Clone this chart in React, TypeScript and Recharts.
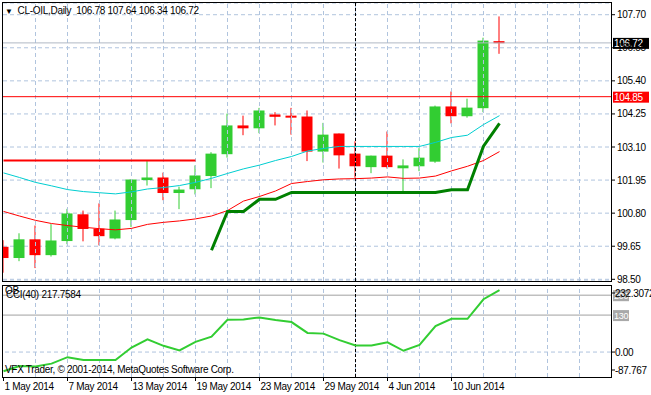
import {
  ComposedChart,
  Bar,
  Line,
  XAxis,
  YAxis,
  CartesianGrid,
  ReferenceLine,
} from 'recharts'

// trading days, 1 May .. 13 Jun 2014
const dates = [
  '1 May 2014', '2 May 2014', '5 May 2014', '6 May 2014', '7 May 2014', '8 May 2014',
  '9 May 2014', '12 May 2014', '13 May 2014', '14 May 2014', '15 May 2014', '16 May 2014',
  '19 May 2014', '20 May 2014', '21 May 2014', '22 May 2014', '23 May 2014', '26 May 2014',
  '27 May 2014', '28 May 2014', '29 May 2014', '30 May 2014', '2 Jun 2014', '3 Jun 2014',
  '4 Jun 2014', '5 Jun 2014', '6 Jun 2014', '9 Jun 2014', '10 Jun 2014', '11 Jun 2014',
  '12 Jun 2014', '13 Jun 2014',
]

const open = [
  99.63, 99.24, 99.89, 99.34, 99.83, 100.76, 100.26, 99.92, 100.56, 101.95, 102.04, 101.5,
  101.63, 102.09, 102.85, 103.85, 103.75, 104.23, 104.19, 104.16, 102.94, 103.57, 102.87, 102.4,
  102.8, 102.36, 102.43, 102.59, 104.51, 104.17, 104.45, 106.78,
]
const high = [
  99.86, 100.1, 100.37, 100.42, 100.95, 100.89, 101.14, 100.89, 101.97, 102.61, 102.21, 101.72,
  102.46, 102.92, 104.26, 104.19, 104.46, 104.31, 104.46, 104.37, 103.94, 103.57, 103.3, 102.8,
  103.64, 102.67, 103.06, 104.54, 105.03, 104.78, 106.9, 107.64,
]
const low = [
  98.73, 99.13, 98.89, 99.29, 99.72, 99.82, 99.68, 99.89, 100.32, 101.76, 101.25, 100.94,
  101.45, 101.67, 102.73, 103.51, 103.58, 103.85, 103.53, 102.61, 102.56, 102.35, 102.03, 102.19,
  102.35, 101.56, 102.26, 102.55, 103.92, 104.12, 104.31, 106.34,
]
const close = [
  99.24, 99.89, 99.34, 99.85, 100.79, 100.25, 100.0, 100.58, 101.97, 102.04, 101.5, 101.62,
  102.11, 102.87, 103.85, 103.75, 104.37, 104.15, 104.13, 102.94, 103.53, 102.81, 102.43, 102.8,
  102.4, 102.46, 102.73, 104.51, 104.17, 104.47, 106.8, 106.72,
]

// moving averages and the trailing line
const maFast = [
  102.2, 102.04, 101.87, 101.75, 101.62, 101.55, 101.51, 101.47, 101.54, 101.64, 101.69, 101.76,
  101.87, 102.01, 102.18, 102.34, 102.47, 102.63, 102.77, 102.96, 103.05, 103.12, 103.12, 103.12,
  103.12, 103.12, 103.12, 103.26, 103.43, 103.51, 103.88, 104.19,
]
const maSlow = [
  100.86, 100.7, 100.55, 100.44, 100.37, 100.31, 100.26, 100.22, 100.27, 100.41, 100.48, 100.53,
  100.6, 100.7, 100.89, 101.22, 101.38, 101.57, 101.83, 101.9, 101.96, 101.99, 102.0, 102.02,
  102.06, 102.01, 102.02, 102.09, 102.27, 102.43, 102.63, 102.94,
]
const trail = [
  null, null, null, null, null, null, null, null, null, null, null, null,
  null, 99.51, 100.86, 100.86, 101.28, 101.28, 101.52, 101.52, 101.52, 101.52, 101.52, 101.52,
  101.52, 101.52, 101.52, 101.52, 101.61, 101.61, 103.13, 103.92,
]
const level = [
  102.63, 102.63, 102.63, 102.63, 102.63, 102.63, 102.63, 102.63, 102.63, 102.63, 102.63, 102.63,
  102.63,
]

const cci = [
  -67.6, -49.5, -51.2, -40.8, -18.1, -27.9, -27.9, -27.9, 16.0, 44.6, 21.9, 5.6,
  35.9, 54.3, 113.6, 114.9, 121.9, 112.5, 105.5, 67.2, 64.8, 41.8, 23.0, 23.0,
  34.1, 4.5, 25.4, 91.6, 117.0, 117.0, 185.7, 217.7584,
]

const priceTicks = [98.5, 99.65, 100.8, 101.95, 103.1, 104.25, 105.4, 106.55, 107.7]
const dateTicks = [0, 4, 8, 12, 16, 20, 24, 28]
const gridBars = [2, 4, 6, 8, 10, 12, 14, 16, 18, 20, 22, 24, 26, 28, 30, 32, 34, 36]
const separatorBar = 22
const bidPrice = 106.72
const alertPrice = 104.85
const cciMin = -87.767
const cciMax = 232.3072
const cciTicks = [cciMin, 0, cciMax]
const cciTickLabels = ['-87.767', '0.00', '232.3072']
const cciLevels = [200, 130]

const rows = open.map((o, i) => ({
  i,
  open: o,
  high: high[i],
  low: low[i],
  close: close[i],
  fast: maFast[i],
  slow: maSlow[i],
  trail: trail[i],
  level: level[i] ?? null,
  cci: cci[i],
}))

const xDomain = [-1 / 32, 38 - 1 / 32]
const GRID = '#B0C4DE'
const UP = '#32CD32'
const DOWN = '#FF0000'

const Candle = (props: any) => {
  const { x, y, width, height, payload } = props
  const { open, close, high, low } = payload
  const color = close >= open ? UP : DOWN
  const top = Math.min(y, y + height)
  const span = Math.abs(height)
  const perUnit = span / (high - low)
  const py = (v: number) => top + (high - v) * perUnit
  const cx = x + width / 2
  const bodyTop = py(Math.max(open, close))
  const bodyH = Math.max(2, py(Math.min(open, close)) - bodyTop)
  return (
    <g>
      <line x1={cx} x2={cx} y1={top} y2={top + span} stroke={color} strokeWidth={1} />
      <rect x={x} y={bodyTop} width={width} height={bodyH} fill={color} />
    </g>
  )
}

const tag = (text: string, bg: string, w: number, size = 10) => (props: any) => {
  const { viewBox } = props
  const x = viewBox.x + viewBox.width + 2
  const y = viewBox.y
  return (
    <g>
      <rect x={x} y={y - 5} width={w} height={11} fill={bg} />
      <text x={x + 1} y={y + 4} fill="#fff" fontSize={size}>
        {text}
      </text>
    </g>
  )
}

const DateTick = ({ x, y, payload }: any) => (
  <text x={x + 1} y={y} dy="0.71em" fill="#000" fontSize={10} textAnchor="start">
    {dates[payload.value]}
  </text>
)

const CciTick = ({ x, y, payload }: any) => {
  const idx = cciTicks.indexOf(payload.value)
  const shift = payload.value === cciMax ? 7 : payload.value === cciMin ? -7 : 0
  return (
    <g>
      <line x1={x - 4} x2={x} y1={y + shift} y2={y + shift} stroke="#000" />
      <text x={x} y={y + shift} dy="0.355em" fill="#000" fontSize={10}>
        {cciTickLabels[idx]}
      </text>
    </g>
  )
}

const text = (top: number, left: number, s: string) => (
  <div style={{ position: 'absolute', top, left, lineHeight: '12px', whiteSpace: 'pre' }}>{s}</div>
)

export default function App() {
  return (
    <div
      style={{
        position: 'absolute',
        left: 0,
        top: 0,
        width: 651,
        height: 395,
        background: '#fff',
        overflow: 'hidden',
        fontFamily: '"Liberation Sans", Arial, sans-serif',
        fontSize: 10,
        letterSpacing: '-0.3px',
        color: '#000',
      }}
    >
      <div style={{ position: 'absolute', left: 0, top: 0 }}>
        <ComposedChart width={651} height={285} data={rows} margin={{ top: 3, right: 0, bottom: 4, left: 3 }}>
          <CartesianGrid vertical={false} stroke={GRID} strokeDasharray="4 3" />
          <XAxis dataKey="i" type="number" domain={xDomain} allowDataOverflow hide />
          <YAxis
            orientation="right"
            width={40}
            domain={[98.441, 108.107]}
            allowDataOverflow
            ticks={priceTicks}
            interval={0}
            tickFormatter={(v: number) => v.toFixed(2)}
            axisLine={false}
            tickSize={4}
            tickMargin={2}
            tickLine={{ stroke: '#000' }}
            tick={{ fill: '#000', fontSize: 10 }}
          />
          {gridBars.map((b) => (
            <ReferenceLine key={b} x={b} stroke={GRID} strokeDasharray="4 3" />
          ))}
          <ReferenceLine x={separatorBar} stroke="#000" strokeDasharray="3 2" />
          <ReferenceLine y={bidPrice} stroke="#B0B8C4" label={tag(bidPrice.toFixed(2), '#000', 36)} />
          <ReferenceLine y={alertPrice} stroke="#FF0000" label={tag(alertPrice.toFixed(2), '#FF0000', 36)} />
          <Bar
            dataKey={(d: any) => [d.low, d.high]}
            barSize={11}
            shape={(p: any) => <Candle {...p} />}
            isAnimationActive={false}
          />
          <Line type="linear" dataKey="slow" stroke="#FF0000" strokeWidth={1} dot={false} isAnimationActive={false} />
          <Line type="linear" dataKey="fast" stroke="#00CED1" strokeWidth={1} dot={false} isAnimationActive={false} />
          <Line type="linear" dataKey="trail" stroke="#008000" strokeWidth={3} dot={false} isAnimationActive={false} />
          <Line type="linear" dataKey="level" stroke="#FF0000" strokeWidth={2} dot={false} isAnimationActive={false} />
        </ComposedChart>
      </div>

      <div style={{ position: 'absolute', left: 0, top: 283 }}>
        <ComposedChart width={651} height={112} data={rows} margin={{ top: 3, right: 0, bottom: 0, left: 3 }}>
          <XAxis
            dataKey="i"
            type="number"
            domain={xDomain}
            allowDataOverflow
            ticks={dateTicks}
            interval={0}
            height={18}
            axisLine={false}
            tickSize={4}
            tickMargin={2}
            tickLine={{ stroke: '#000' }}
            tick={<DateTick />}
          />
          <YAxis
            orientation="right"
            width={40}
            domain={[cciMin, cciMax]}
            allowDataOverflow
            ticks={cciTicks}
            interval={0}
            axisLine={false}
            tickSize={2}
            tickMargin={2}
            tickLine={false}
            tick={<CciTick />}
          />
          {gridBars.map((b) => (
            <ReferenceLine key={b} x={b} stroke={GRID} strokeDasharray="4 3" />
          ))}
          <ReferenceLine y={0} stroke={GRID} strokeDasharray="4 3" />
          {cciLevels.map((l) => (
            <ReferenceLine key={l} y={l} stroke="#A0A0A0" label={tag(String(l), '#A9A9A9', 16, 9)} />
          ))}
          <ReferenceLine x={separatorBar} stroke="#000" strokeDasharray="3 2" />
          <Line type="linear" dataKey="cci" stroke="#32CD32" strokeWidth={2} dot={false} isAnimationActive={false} />
        </ComposedChart>
      </div>

      {/* panel frames */}
      <div style={{ position: 'absolute', left: 2, top: 2, width: 610, height: 280, border: '1px solid #000', boxSizing: 'border-box' }} />
      <div style={{ position: 'absolute', left: 2, top: 285, width: 610, height: 93, border: '1px solid #000', boxSizing: 'border-box' }} />

      <div style={{ position: 'absolute', top: 5, left: 5, lineHeight: '12px', whiteSpace: 'pre' }}>
        <span style={{ fontSize: 8 }}>▼</span>
        {'  CL-OIL,Daily  106.78 107.64 106.34 106.72'}
      </div>
      {text(285, 5, 'OB')}
      {text(289, 6, 'CCI(40) 217.7584')}
      {text(364, 5, 'VFX Trader, © 2001-2014, MetaQuotes Software Corp.')}
    </div>
  )
}
